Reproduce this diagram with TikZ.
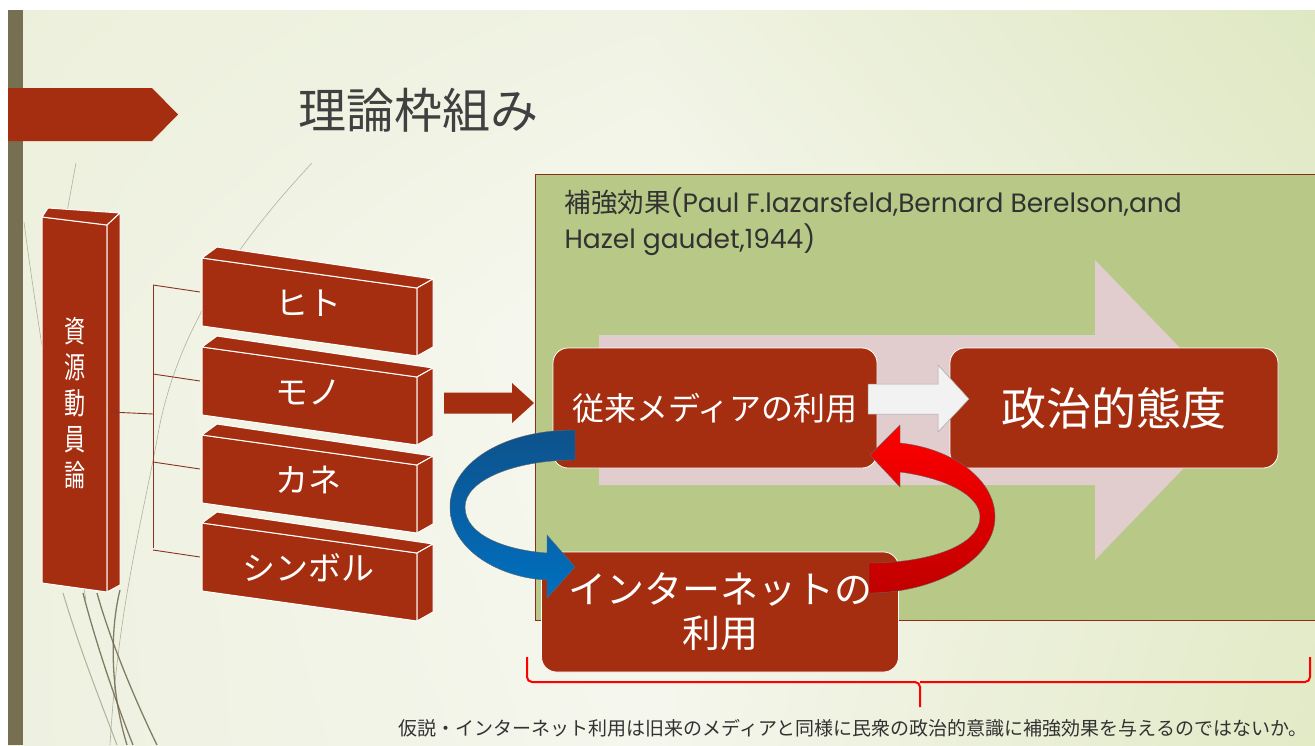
\documentclass[tikz,border=0pt]{standalone}
\usepackage{fontspec}
\setmainfont{Noto Sans CJK JP}
\newfontfamily\popfont{Poppins}
\usetikzlibrary{calc,shadings}
\definecolor{brick}{RGB}{165,46,16}
\definecolor{olivebar}{RGB}{118,111,82}
\definecolor{greenbox}{RGB}{183,200,135}
\definecolor{pinkarrow}{RGB}{225,205,205}
\definecolor{titlegray}{RGB}{64,64,64}
\definecolor{decogray}{RGB}{150,150,125}
\definecolor{decodark}{RGB}{110,105,80}
\definecolor{framered}{RGB}{140,45,25}
\definecolor{linebrown}{RGB}{140,50,35}
\definecolor{textgray}{RGB}{50,50,50}
\definecolor{bgTL}{RGB}{236,240,219}
\definecolor{bgTM}{RGB}{240,243,227}
\definecolor{bgTR}{RGB}{223,232,195}
\definecolor{bgML}{RGB}{238,241,223}
\definecolor{bgC}{RGB}{247,248,241}
\definecolor{bgMR}{RGB}{230,236,207}
\definecolor{bgBL}{RGB}{238,241,224}
\definecolor{bgBM}{RGB}{245,246,237}
\definecolor{bgBR}{RGB}{226,234,198}
\definecolor{blueA}{RGB}{14,82,140}
\definecolor{blueB}{RGB}{0,112,192}
\definecolor{redA}{RGB}{255,0,0}
\definecolor{redB}{RGB}{192,0,0}
\definecolor{whitearrow}{RGB}{242,242,242}
\begin{document}
\begin{tikzpicture}[x=1pt,y=-1pt,
  face/.style={fill=brick, draw=white, line width=1pt, line join=round},
  rbox/.style={fill=brick, draw=white, line width=0.8pt, rounded corners=15pt, text=white, inner sep=0pt, align=center},
  conn/.style={draw=linebrown, line width=0.9pt},
  decoline/.style={draw=decogray, line width=0.6pt, opacity=0.7},
  decothick/.style={draw=decodark, line width=1.3pt, opacity=0.85},
  ribbonline/.style={draw=black!60, line width=0.4pt}]
\useasboundingbox (0,0) rectangle (1315,745);
\fill[white] (0,0) rectangle (1315,745);
% background: four bilinear patches, light in the middle
\shade[upper left=bgTL, upper right=bgTM, lower left=bgML, lower right=bgC] (8,10) rectangle (650.5,330.5);
\shade[upper left=bgTM, upper right=bgTR, lower left=bgC, lower right=bgMR] (650,10) rectangle (1315,330.5);
\shade[upper left=bgML, upper right=bgC, lower left=bgBL, lower right=bgBM] (8,330) rectangle (650.5,745);
\shade[upper left=bgC, upper right=bgMR, lower left=bgBM, lower right=bgBR] (650,330) rectangle (1315,745);
\fill[olivebar] (8,10) rectangle (23,745);

% decorative background curves
\draw[decoline] (76,163) -- (67,212);
\draw[decoline] (312,163) .. controls (240,240) and (175,330) .. (157,440) .. controls (140,530) and (118,610) .. (110,745);
\draw[decoline] (24,222) .. controls (38,330) and (62,470) .. (86,600);
\draw[decoline, line width=1pt] (63,593) .. controls (80,650) and (100,700) .. (117,745);
\draw[decothick] (83,593) .. controls (95,640) and (115,700) .. (133,745);
\draw[decothick] (97,593) .. controls (110,640) and (135,700) .. (157,745);
\draw[decothick] (120,590) .. controls (110,630) and (110,690) .. (127,745);

% title
\fill[brick] (8,88) -- (152,88) -- (178,114.5) -- (152,141) -- (8,141) -- cycle;
\node[text=titlegray, font=\fontsize{48}{50}\selectfont] (title) at (418,110) {理論枠組み};

% tall 3D box
\path[face] (42,217) -- (107,225) -- (107,592) -- (42,583) -- cycle;
\path[face] (42,217) -- (48,208) -- (120,213) -- (107,225) -- cycle;
\path[face] (107,225) -- (120,213) -- (120,585) -- (107,592) -- cycle;
\node[text=white, align=center, xscale=0.7, font=\fontsize{30}{36}\selectfont] (shigen) at (75,403) {資\\源\\動\\員\\論};
\coordinate (shigenR) at (110,412);
\coordinate (busM) at (153,414);
\coordinate (busT) at (153,285);
\coordinate (busB) at (153,548);

% four 3D boxes
\foreach \yy/\lab/\nm in {258/ヒト/hito, 347/モノ/mono, 435/カネ/kane, 523/シンボル/symbol}{
  \path[face] (202,\yy) -- (417,\yy+30) -- (417,\yy+98) -- (202,\yy+68) -- cycle;
  \path[face] (202,\yy) -- (217,\yy-11) -- (433,\yy+21) -- (417,\yy+30) -- cycle;
  \path[face] (417,\yy+30) -- (433,\yy+21) -- (433,\yy+89) -- (417,\yy+98) -- cycle;
  \node[text=white, font=\fontsize{33}{36}\selectfont] (\nm) at (308,\yy+45) {\lab};
  \coordinate (\nm L) at (200,\yy+34);
  \draw[conn] (153,\yy+27) -- (\nm L);
}
\draw[conn] (shigenR) -- (busM);
\draw[conn] (busT) -- (busB);

% green frame
\fill[greenbox, draw=framered, line width=1pt] (535,174) rectangle (1317,620);
\node[anchor=west, text=textgray, font=\fontsize{26.5}{28}\selectfont] (cite1) at (561,203) {補強効果\popfont(Paul F.lazarsfeld,Bernard Berelson,and};
\node[anchor=west, text=textgray, font=\fontsize{26.5}{28}\selectfont\popfont] (cite2) at (561,240) {Hazel gaudet,1944)};

% pink background arrow
\fill[pinkarrow] (599,335) -- (1095,335) -- (1095,260) -- (1240,410) -- (1095,560) -- (1095,485) -- (599,485) -- cycle;

% boxes
\node[rbox, minimum width=324, minimum height=120, font=\fontsize{32}{36}\selectfont] (media) at (715,408) {従来メディアの利用};
\node[rbox, minimum width=328, minimum height=120, font=\fontsize{45}{50}\selectfont] (attitude) at (1114,408) {政治的態度};
\node[rbox, minimum width=357, minimum height=120, font=\fontsize{38}{44}\selectfont] (internet) at (720,612) {インターネットの\\利用};

% brown arrow into media
\coordinate (brA) at (444,403);
\coordinate (brB) at (534,403);
\fill[brick] ($(brA)+(0,-10.5)$) -- ($(brB)+(-22,-10.5)$) -- ($(brB)+(-22,-20)$) -- (brB) -- ($(brB)+(-22,20)$) -- ($(brB)+(-22,10.5)$) -- ($(brA)+(0,10.5)$) -- cycle;

% white arrow media -> attitude
\coordinate (waA) at (868,399);
\coordinate (waB) at (969,399);
\fill[whitearrow, draw=black!35, line width=0.5pt] ($(waA)+(0,-15)$) -- ($(waB)+(-31,-15)$) -- ($(waB)+(-31,-34)$) -- (waB) -- ($(waB)+(-31,33)$) -- ($(waB)+(-31,15)$) -- ($(waA)+(0,15)$) -- cycle;

% blue curved arrow media -> internet
\shade[top color=blueA, bottom color=blueB, ribbonline]
  (575,430) .. controls (500,430) and (450,465) .. (450,507)
  .. controls (450,550) and (500,578) .. (547,580)
  -- (547,598) -- (575,567) -- (547,535) -- (547,553)
  .. controls (505,550) and (465,535) .. (465,507)
  .. controls (465,480) and (515,460) .. (575,460) -- cycle;

% red curved arrow internet -> media
\shade[top color=redA, bottom color=redB, ribbonline]
  (869,593) .. controls (935,593) and (995,560) .. (995,517)
  .. controls (995,478) and (950,448) .. (900,443)
  -- (900,425) -- (870,455) -- (900,487) -- (900,472)
  .. controls (945,478) and (980,495) .. (980,517)
  .. controls (980,545) and (930,563) .. (869,563) -- cycle;

% red brace
\draw[red, line width=2pt, rounded corners=5pt] (527,657) |- (920,682) -- (920,707);
\draw[red, line width=2pt, rounded corners=5pt] (920,682) -| (1310,657);
\node[text=textgray, font=\fontsize{19}{22}\selectfont] (hypo) at (853,728) {仮説・インターネット利用は旧来のメディアと同様に民衆の政治的意識に補強効果を与えるのではないか。};
\end{tikzpicture}
\end{document}
